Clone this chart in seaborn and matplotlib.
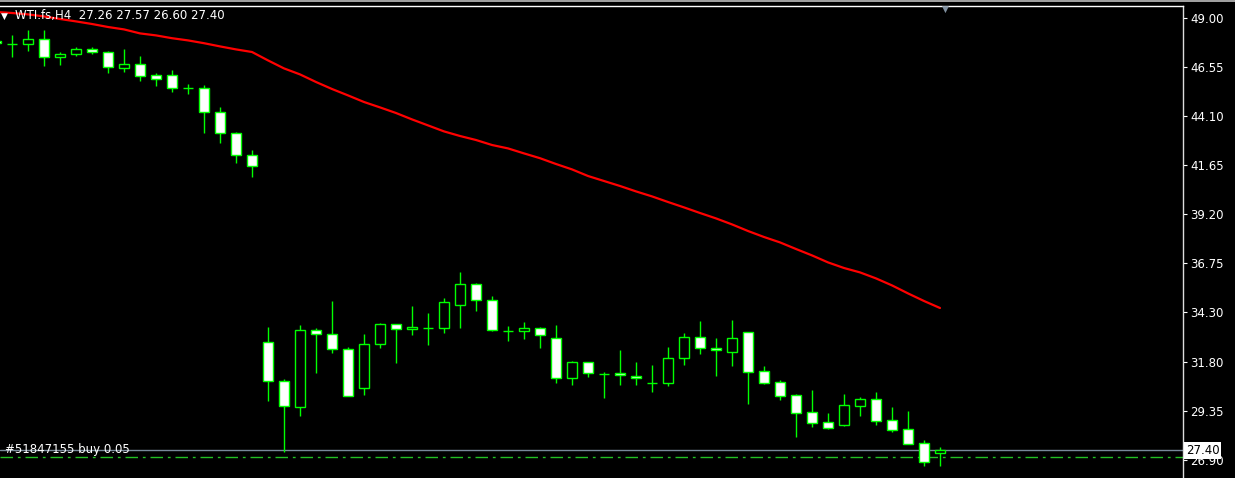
import matplotlib
matplotlib.use("Agg")
import matplotlib.pyplot as plt
import seaborn as sns
import pandas as pd
import numpy as np

# WTI.fs H4 candles, oldest first (the first one is cut off at the left edge)
opens = [47.85, 47.70, 47.69, 47.93, 47.03, 47.18, 47.43, 47.28, 46.52, 46.68,
         46.13, 46.13, 45.48, 45.48, 44.28, 43.23, 42.13,
         32.78, 30.83, 29.53, 33.38, 33.18, 32.43, 30.48, 32.68, 33.68, 33.43,
         33.50, 33.48, 34.63, 35.68, 34.88, 33.36, 33.33, 33.48, 32.98, 30.98,
         31.78, 31.18, 31.23, 31.12, 30.77, 30.73, 31.98, 33.03, 32.48, 32.32,
         33.28, 31.33, 30.78, 30.13, 29.28, 28.78, 28.67, 29.62, 29.93, 28.88,
         28.43, 27.73, 27.26]
highs = [47.90, 48.15, 48.40, 48.40, 47.31, 47.57, 47.57, 47.37, 47.45, 47.10,
         46.23, 46.40, 45.68, 45.65, 44.55, 43.30, 42.40,
         33.53, 30.95, 33.65, 33.50, 34.85, 32.53, 33.20, 33.75, 33.70, 34.60,
         34.25, 35.00, 36.30, 35.75, 35.10, 33.60, 33.80, 33.53, 33.65, 31.85,
         31.80, 31.30, 32.40, 31.80, 31.65, 32.55, 33.25, 33.85, 33.00, 33.90,
         33.30, 31.60, 30.90, 30.20, 30.40, 29.25, 30.20, 30.05, 30.30, 29.55,
         29.35, 27.90, 27.57]
lows = [47.70, 47.05, 47.37, 46.62, 46.65, 47.12, 47.20, 46.27, 46.32, 45.87,
        45.60, 45.32, 45.20, 43.27, 42.77, 41.77, 41.03,
        29.87, 27.32, 29.12, 31.27, 32.27, 30.10, 30.15, 32.52, 31.77, 33.17,
        32.67, 33.27, 33.52, 34.37, 33.33, 32.87, 32.97, 32.52, 30.73, 30.67,
        31.07, 30.02, 30.65, 30.67, 30.32, 30.62, 31.67, 32.22, 31.12, 31.62,
        29.70, 30.72, 29.90, 28.05, 28.55, 28.45, 28.60, 29.12, 28.65, 28.30,
        27.72, 26.62, 26.60]
closes = [47.75, 47.70, 47.94, 47.03, 47.20, 47.43, 47.32, 46.53, 46.68, 46.12,
          45.97, 45.48, 45.48, 44.28, 43.23, 42.13, 41.58,
          30.83, 29.58, 33.38, 33.18, 32.43, 30.12, 32.68, 33.68, 33.43, 33.53,
          33.50, 34.78, 35.68, 34.88, 33.38, 33.36, 33.48, 33.13, 30.98, 31.78,
          31.23, 31.18, 31.13, 30.98, 30.77, 31.98, 33.03, 32.48, 32.38, 32.98,
          31.32, 30.77, 30.12, 29.27, 28.77, 28.52, 29.63, 29.93, 28.87, 28.42,
          27.72, 26.82, 27.40]
# moving average (red line), one value per candle
ma_values = [49.30, 49.25, 49.18, 49.08, 48.95, 48.83, 48.70, 48.55, 48.43, 48.23,
             48.13, 47.99, 47.88, 47.74, 47.58, 47.43, 47.30,
             46.88, 46.48, 46.18, 45.80, 45.45, 45.13, 44.80, 44.53, 44.25, 43.93,
             43.63, 43.33, 43.10, 42.90, 42.65, 42.48, 42.23, 41.99, 41.70, 41.43,
             41.10, 40.85, 40.60, 40.33, 40.08, 39.80, 39.53, 39.25, 38.98, 38.68,
             38.35, 38.05, 37.78, 37.45, 37.13, 36.78, 36.50, 36.28, 35.98, 35.63,
             35.23, 34.85, 34.50]

price_ticks = [49.00, 46.55, 44.10, 41.65, 39.20, 36.75, 34.30, 31.80, 29.35, 26.90]
tick_labels = ["49.00", "46.55", "44.10", "41.65", "39.20", "36.75",
               "34.30", "31.80", "29.35", "26.90"]
bid_price = 27.40
order_price = 27.03
header_text = "WTI.fs,H4  27.26 27.57 26.60 27.40"
order_text = "#51847155 buy 0.05"

df = pd.DataFrame({"Open": opens, "High": highs, "Low": lows,
                   "Close": closes, "MA": ma_values})
df["Bar"] = np.arange(len(df)) - 1

sns.set_style("dark", rc={"axes.facecolor": "black", "figure.facecolor": "black",
                          "axes.edgecolor": "white", "xtick.color": "white",
                          "ytick.color": "white", "text.color": "white"})
plt.rcParams["font.family"] = ["DejaVu Sans"]
plt.rcParams["lines.scale_dashes"] = False

W, H = 1235, 478
fig = plt.figure(figsize=(W / 100, H / 100), dpi=100)
ax = fig.add_axes([0, 0, 1183 / W, (H - 6) / H])

lime = "#00FF00"
up = df["Close"] >= df["Open"]

# wicks
ax.vlines(df["Bar"], df["Low"], df["High"], color=lime, lw=1.0, zorder=2)
# bodies: black for up bars, white for down bars
body_bottom = np.minimum(df["Open"], df["Close"])
body_height = np.maximum((df["Close"] - df["Open"]).abs(), 0.001)
ax.bar(df["Bar"], body_height, bottom=body_bottom, width=0.66,
       color=np.where(up, "black", "white"), edgecolor=lime, linewidth=1.0, zorder=3)

sns.lineplot(data=df, x="Bar", y="MA", color="#FF0000", lw=1.6, ax=ax,
             legend=False, zorder=4)

# bid line and order line
ax.axhline(bid_price, color="#778899", lw=1.0, zorder=1)
ax.axhline(order_price, color="#22C022", lw=1.0, ls=(0, (9, 3.5, 2, 3.5)), zorder=1)

ax.set_xlim(-0.75, (1183 - 12) / 16)
ax.set_ylim(26.0, 49.6)
ax.set_xlabel("")
ax.set_ylabel("")
ax.set_xticks([])
ax.yaxis.tick_right()
ax.set_yticks(price_ticks)
ax.set_yticklabels(tick_labels)
ax.tick_params(axis="y", length=3, width=0.8, pad=2, labelsize=8.5, colors="white")
ax.grid(False)
for side in ["left", "bottom"]:
    ax.spines[side].set_visible(False)
ax.spines["top"].set_color("white")
ax.spines["right"].set_color("#dddddd")
ax.spines["top"].set_linewidth(1.0)
ax.spines["right"].set_linewidth(1.0)

# header and markers
fig.add_artist(plt.Rectangle((0, 1 - 2 / H), 1, 2 / H, transform=fig.transFigure,
                             color="#a0a0a0", lw=0))
fig.text(15 / W, 1 - 16 / H, header_text, fontsize=8.5, color="white", va="center")
fig.text(1 / W, 1 - 16 / H, "\u25BC", fontsize=6.5, color="white", va="center")
fig.text(945 / W, 1 - 9 / H, "\u25BC", fontsize=6.5, color="#8090a0",
         va="center", ha="center")
fig.text(5 / W, 1 - 450 / H, order_text, fontsize=8.5, color="white", va="center")
fig.text(1186 / W, 1 - 450.5 / H, "27.40", fontsize=8.5, color="black", va="center",
         bbox=dict(boxstyle="square,pad=0.15", fc="white", ec="none"))

fig.savefig("out.png", dpi=100, facecolor="black")
